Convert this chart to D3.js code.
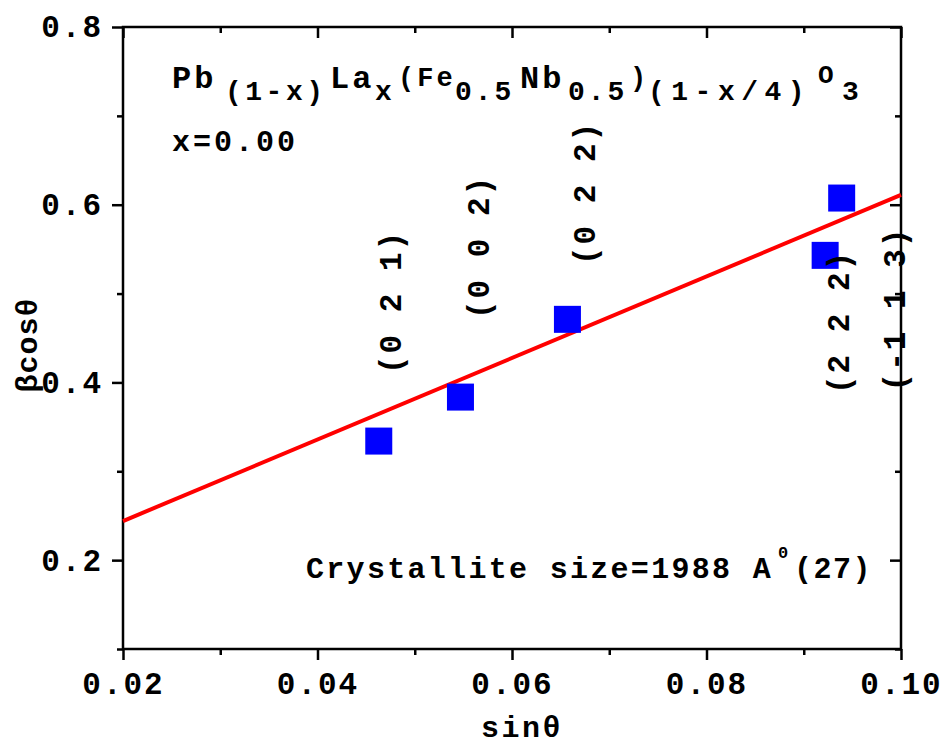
<!DOCTYPE html>
<html>
<head>
<meta charset="utf-8">
<script src="https://cdn.jsdelivr.net/npm/d3@7"></script>
<style>
  html, body { margin: 0; padding: 0; background: #fff; }
  svg { display: block; }
  text { font-family: "Liberation Mono", "Courier New", monospace; font-weight: bold; fill: #000; }
</style>
</head>
<body>
<svg id="chart" width="943" height="745"></svg>
<script>
// Williamson–Hall points: sinθ vs βcosθ for each reflection
const sinTheta = [0.0463, 0.0547, 0.0657, 0.0922, 0.0939];
const betaCos  = [0.334, 0.3835, 0.471, 0.543, 0.6075];
const hkl      = ["(0 2 1)", "(0 0 2)", "(0 2 2)", "(2 2 2)", "(-1 1 3)"];

// hkl label anchors, in data units (sinθ, βcosθ)
const labelSin = [0.0475, 0.0565, 0.0674, 0.0935, 0.0993];
const labelBeta = [0.4905, 0.5524, 0.6132, 0.468, 0.4826];

// linear fit, evaluated at the ends of the x range
const fitSin  = [0.02, 0.10];
const fitBeta = [0.244, 0.611];

// axes
const xTicks = [0.02, 0.04, 0.06, 0.08, 0.10];
const xMinor = [0.03, 0.05, 0.07, 0.09];
const yTicks = [0.2, 0.4, 0.6, 0.8];
const yMinor = [0.1, 0.3, 0.5, 0.7];

const plotL = 123, plotR = 901, plotT = 27, plotB = 649;

const svg = d3.select("#chart");
const x = d3.scaleLinear().domain([0.02, 0.10]).range([plotL, plotR]);
const y = d3.scaleLinear().domain([0.1, 0.8]).range([plotB, plotT]);

const fmtX = d3.format(".2f"), fmtY = d3.format(".1f");

// bottom axis: outward major + minor ticks
const gB = svg.append("g").attr("transform", `translate(0,${plotB})`);
gB.call(d3.axisBottom(x).tickValues(xTicks).tickFormat(fmtX).tickSize(11).tickPadding(12));
gB.append("g").call(d3.axisBottom(x).tickValues(xMinor).tickFormat("").tickSize(6));
// left axis
const gL = svg.append("g").attr("transform", `translate(${plotL},0)`);
gL.call(d3.axisLeft(y).tickValues(yTicks).tickFormat(fmtY).tickSize(11).tickPadding(9));
gL.append("g").call(d3.axisLeft(y).tickValues(yMinor).tickFormat("").tickSize(6));
// top axis: inward ticks
const gT = svg.append("g").attr("transform", `translate(0,${plotT})`);
gT.call(d3.axisBottom(x).tickValues(xTicks).tickFormat("").tickSize(11));
gT.append("g").call(d3.axisBottom(x).tickValues(xMinor).tickFormat("").tickSize(6));
// right axis: inward ticks
const gR = svg.append("g").attr("transform", `translate(${plotR},0)`);
gR.call(d3.axisLeft(y).tickValues(yTicks).tickFormat("").tickSize(11));
gR.append("g").call(d3.axisLeft(y).tickValues(yMinor).tickFormat("").tickSize(6));

svg.selectAll(".domain").remove();
svg.selectAll(".tick line").attr("stroke", "#000").attr("stroke-width", 2.5);
svg.selectAll(".tick text")
  .style("font-family", '"Liberation Mono", monospace')
  .style("font-weight", "bold")
  .style("font-size", "31px")
  .style("letter-spacing", "2px")
  .attr("fill", "#000");

// frame
svg.append("rect")
  .attr("x", plotL).attr("y", plotT)
  .attr("width", plotR - plotL).attr("height", plotB - plotT)
  .attr("fill", "none").attr("stroke", "#000").attr("stroke-width", 2.5);

// fit line
svg.append("line")
  .attr("x1", x(fitSin[0])).attr("y1", y(fitBeta[0]))
  .attr("x2", x(fitSin[1])).attr("y2", y(fitBeta[1]))
  .attr("stroke", "#ff0000").attr("stroke-width", 4);

// points
const sz = 27;
svg.append("g").selectAll("rect")
  .data(sinTheta.map((s, i) => [s, betaCos[i]]))
  .join("rect")
  .attr("x", d => x(d[0]) - sz / 2)
  .attr("y", d => y(d[1]) - sz / 2)
  .attr("width", sz).attr("height", sz)
  .attr("fill", "#0000ff");

// hkl labels
svg.append("g").selectAll("text")
  .data(hkl.map((h, i) => ({ h, sx: labelSin[i], by: labelBeta[i] })))
  .join("text")
  .attr("transform", d => `translate(${x(d.sx)},${y(d.by)}) rotate(-90)`)
  .attr("text-anchor", "middle")
  .attr("dy", "0.35em")
  .style("font-size", "31px")
  .style("letter-spacing", "2px")
  .text(d => d.h);

// axis titles
svg.append("text")
  .attr("x", 522).attr("y", 737)
  .attr("text-anchor", "middle")
  .style("font-size", "30px")
  .style("letter-spacing", "2.5px")
  .text("sinθ");
svg.append("text")
  .attr("transform", "translate(37,345) rotate(-90)")
  .attr("text-anchor", "middle")
  .style("font-size", "30px")
  .style("letter-spacing", "1px")
  .text("βcosθ");

// composition formula: [text, x, baseline, font size, letter spacing]
const formula = [
  ["Pb",      172, 88, 32, 3],
  ["(1-x)",   225, 100, 28, 3.5],
  ["La",      330, 88, 32, 3],
  ["x",       375, 100, 28, 0],
  ["(Fe",     398, 86, 27, 3],
  ["0.5",     455, 100, 28, 3],
  ["Nb",      520, 88, 32, 3],
  ["0.5",     568, 100, 28, 3],
  [")",       630, 86, 27, 0],
  ["(1-x/4)", 648, 100, 28, 6.5],
  ["O",       818, 83, 26, 0],
  ["3",       842, 100, 28, 0]
];
const comp = svg.append("text");
formula.forEach(([t, px, py, fs, ls]) => {
  comp.append("tspan")
    .attr("x", px).attr("y", py)
    .style("font-size", fs + "px")
    .style("letter-spacing", ls + "px")
    .text(t);
});

svg.append("text").attr("x", 172).attr("y", 151)
  .style("font-size", "30px").style("letter-spacing", "3px").text("x=0.00");

const cs = svg.append("text").style("font-size", "30px");
cs.append("tspan").attr("x", 306).attr("y", 578).style("letter-spacing", "2.3px")
  .text("Crystallite size=1988 A");
cs.append("tspan").attr("x", 778).attr("y", 558).style("font-size", "17px").text("0");
cs.append("tspan").attr("x", 794).attr("y", 578).style("letter-spacing", "1.5px").text("(27)");
</script>
</body>
</html>
